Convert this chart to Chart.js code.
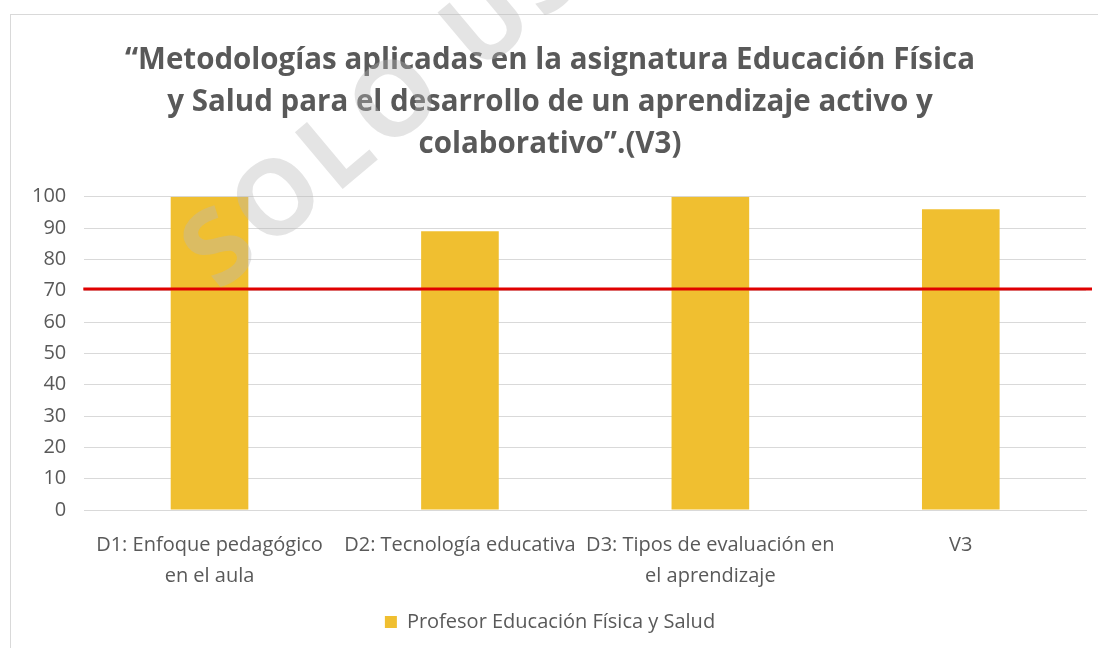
<!DOCTYPE html>
<html>
<head>
<meta charset="utf-8">
<script src="https://cdn.jsdelivr.net/npm/chart.js@4/dist/chart.umd.min.js"></script>
<style>
  html, body { margin: 0; padding: 0; background: #fff; }
  #wrap { position: relative; width: 1098px; height: 648px; overflow: hidden; }
  #frame { position: absolute; left: 10px; top: 14px; width: 1200px; height: 800px;
           border-left: 1px solid #d9d9d9; border-top: 1px solid #d9d9d9; }
  #chart { position: absolute; left: 0; top: 0; }
</style>
</head>
<body>
<div id="wrap">
  <div id="frame"></div>
  <canvas id="chart" width="1098" height="648"></canvas>
</div>
<script>
    // datos del gráfico
    const titleLines = [
        "“Metodologías aplicadas en la asignatura Educación Física",
        "y Salud para el desarrollo de un aprendizaje activo y",
        "colaborativo”.(V3)"
    ];
    const categories = [
        ["D1: Enfoque pedagógico", "en el aula"],
        "D2: Tecnología educativa",
        ["D3: Tipos de evaluación en", "el aprendizaje"],
        "V3"
    ];
    const seriesName = "Profesor Educación Física y Salud";
    const values = [100, 89, 100, 96];
    const threshold = 70.5;
    const watermark = "SOLO USO";

    const gray = "#595959";

    // linea roja de referencia
    const thresholdLine = {
        id: "thresholdLine",
        afterDatasetsDraw(chart) {
            const { ctx, chartArea, scales } = chart;
            const y = scales.y.getPixelForValue(threshold);
            ctx.save();
            ctx.strokeStyle = "#e00000";
            ctx.lineWidth = 3;
            ctx.beginPath();
            ctx.moveTo(chartArea.left - 1, y);
            ctx.lineTo(chartArea.right + 6, y);
            ctx.stroke();
            ctx.restore();
        }
    };

    // marca de agua
    const watermarkPlugin = {
        id: "watermark",
        afterDraw(chart) {
            const ctx = chart.ctx;
            ctx.save();
            ctx.translate(200, 270);
            ctx.rotate(-40 * Math.PI / 180);
            ctx.font = "bold 104px 'Open Sans'";
            ctx.letterSpacing = "6px";
            ctx.fillStyle = "rgba(185,185,185,0.38)";
            ctx.textBaseline = "middle";
            ctx.fillText(watermark, 0, 0);
            ctx.restore();
        }
    };

    const ctx = document.getElementById("chart").getContext("2d");

    new Chart(ctx, {
        type: "bar",
        data: {
            labels: categories,
            datasets: [{
                label: seriesName,
                data: values,
                backgroundColor: "#f0bf30",
                categoryPercentage: 1,
                barPercentage: 0.31
            }]
        },
        options: {
            responsive: false,
            animation: false,
            layout: { padding: { left: 14, right: 12, top: 40, bottom: 6 } },
            plugins: {
                title: {
                    display: true,
                    text: titleLines,
                    color: gray,
                    font: { family: "'Open Sans'", size: 29.5, weight: "bold", lineHeight: 1.42 },
                    padding: { top: 0, bottom: 31 }
                },
                legend: {
                    position: "bottom",
                    labels: {
                        color: gray,
                        font: { family: "'Open Sans'", size: 20 },
                        boxWidth: 12,
                        boxHeight: 12,
                        padding: 8
                    }
                },
                tooltip: { enabled: false }
            },
            scales: {
                x: {
                    grid: { display: false },
                    border: { color: "#d9d9d9" },
                    ticks: {
                        color: gray,
                        font: { family: "'Open Sans'", size: 20, lineHeight: 1.55 },
                        maxRotation: 0,
                        autoSkip: false,
                        padding: 12
                    }
                },
                y: {
                    min: 0,
                    max: 100,
                    ticks: {
                        stepSize: 10,
                        color: gray,
                        font: { family: "'Open Sans'", size: 20 },
                        padding: 18
                    },
                    grid: { color: "#d9d9d9", drawTicks: false },
                    border: { display: false }
                }
            }
        },
        plugins: [thresholdLine, watermarkPlugin]
    });
</script>
</body>
</html>
